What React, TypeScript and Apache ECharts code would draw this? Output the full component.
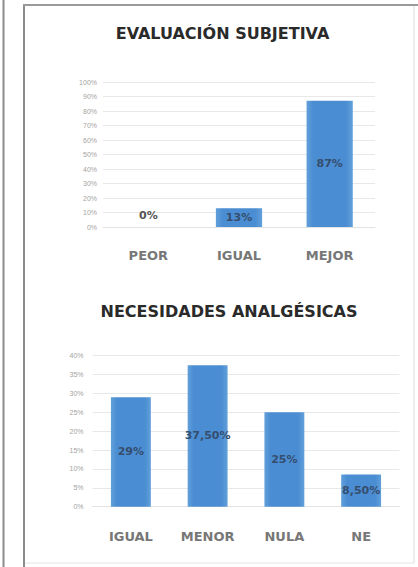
import React, { useEffect, useRef } from "react";
import * as echarts from "echarts";

const TITLE_1 = "EVALUACIÓN SUBJETIVA";
const CATEGORIES_1 = ["PEOR", "IGUAL", "MEJOR"];
const VALUES_1 = [0, 13, 87];

const TITLE_2 = "NECESIDADES ANALGÉSICAS";
const CATEGORIES_2 = ["IGUAL", "MENOR", "NULA", "NE"];
const VALUES_2 = [29, 37.5, 25, 8.5];

const fmtPct = (v: number) =>
  Number.isInteger(v) ? `${v}%` : `${v.toFixed(2).replace(".", ",")}%`;

const barColor = new echarts.graphic.LinearGradient(0, 0, 1, 0, [
  { offset: 0, color: "#62a0db" },
  { offset: 0.15, color: "#4a8dd2" },
  { offset: 0.85, color: "#4a8dd2" },
  { offset: 1, color: "#62a0db" },
]);

export default function App() {
  const ref = useRef<HTMLDivElement>(null);
  useEffect(() => {
    document.body.style.margin = "0";
    const chart = echarts.init(ref.current!, undefined, { renderer: "svg" });
    const yLabel = {
      formatter: "{value}%",
      fontSize: 7,
      color: "#a3a3a3",
      fontFamily: "Liberation Sans",
    };
    const xLabel = {
      fontSize: 13,
      color: "#777777",
      fontFamily: "DejaVu Sans",
      fontWeight: "bold" as const,
    };
    const valLabel = {
      show: true,
      position: "inside" as const,
      fontSize: 11,
      fontWeight: "bold" as const,
      fontFamily: "DejaVu Sans",
      color: "#364e6e",
      formatter: (p: any) => fmtPct(p.value),
    };
    chart.setOption({
      animation: false,
      backgroundColor: "#ffffff",
      grid: [
        { left: 103, width: 272, top: 82, height: 145 },
        { left: 92.5, width: 307, top: 355.7, height: 151 },
      ],
      xAxis: [
        {
          gridIndex: 0,
          type: "category",
          data: CATEGORIES_1,
          axisLine: { lineStyle: { color: "#e3e3e3" } },
          axisTick: { show: false },
          axisLabel: { ...xLabel, margin: 22 },
        },
        {
          gridIndex: 1,
          type: "category",
          data: CATEGORIES_2,
          axisLine: { lineStyle: { color: "#e3e3e3" } },
          axisTick: { show: false },
          axisLabel: { ...xLabel, margin: 23 },
        },
      ],
      yAxis: [
        {
          gridIndex: 0,
          type: "value",
          min: 0,
          max: 100,
          interval: 10,
          axisLine: { show: false },
          axisTick: { show: false },
          splitLine: { lineStyle: { color: "#e8e8e8" } },
          axisLabel: { ...yLabel, margin: 6 },
        },
        {
          gridIndex: 1,
          type: "value",
          min: 0,
          max: 40,
          interval: 5,
          axisLine: { show: false },
          axisTick: { show: false },
          splitLine: { lineStyle: { color: "#e8e8e8" } },
          axisLabel: { ...yLabel, margin: 9 },
        },
      ],
      series: [
        {
          type: "bar",
          xAxisIndex: 0,
          yAxisIndex: 0,
          barWidth: "51%",
          itemStyle: { color: barColor },
          label: valLabel,
          data: VALUES_1.map((v) =>
            v === 0
              ? { value: v, label: { position: "top", distance: 6, color: "#555" } }
              : { value: v }
          ),
        },
        {
          type: "bar",
          xAxisIndex: 1,
          yAxisIndex: 1,
          barWidth: "52%",
          itemStyle: { color: barColor },
          label: valLabel,
          data: VALUES_2,
        },
      ],
      graphic: [
        { type: "line", shape: { x1: 3.5, y1: 0, x2: 3.5, y2: 567 }, style: { stroke: "#8c8c8c", lineWidth: 2 } },
        { type: "line", shape: { x1: 24, y1: 5, x2: 24, y2: 567 }, style: { stroke: "#8c8c8c", lineWidth: 2 } },
        { type: "line", shape: { x1: 23, y1: 5, x2: 418, y2: 5 }, style: { stroke: "#9a9a9a", lineWidth: 2 } },
        { type: "line", shape: { x1: 414, y1: 6, x2: 414, y2: 563 }, style: { stroke: "#dcdcdc", lineWidth: 1 } },
        { type: "line", shape: { x1: 25, y1: 563, x2: 414, y2: 563 }, style: { stroke: "#e4e4e4", lineWidth: 1 } },
        {
          type: "text",
          x: 222.5,
          y: 33,
          style: {
            text: TITLE_1,
            textAlign: "center",
            textVerticalAlign: "middle",
            font: "bold 16px 'DejaVu Sans'",
            fill: "#2a2a2a",
          },
        },
        {
          type: "text",
          x: 229,
          y: 311,
          style: {
            text: TITLE_2,
            textAlign: "center",
            textVerticalAlign: "middle",
            font: "bold 16px 'DejaVu Sans'",
            fill: "#2a2a2a",
          },
        },
      ],
    });
    return () => chart.dispose();
  }, []);
  return (
    <div
      ref={ref}
      style={{ position: "fixed", left: 0, top: 0, width: 418, height: 567 }}
    />
  );
}
